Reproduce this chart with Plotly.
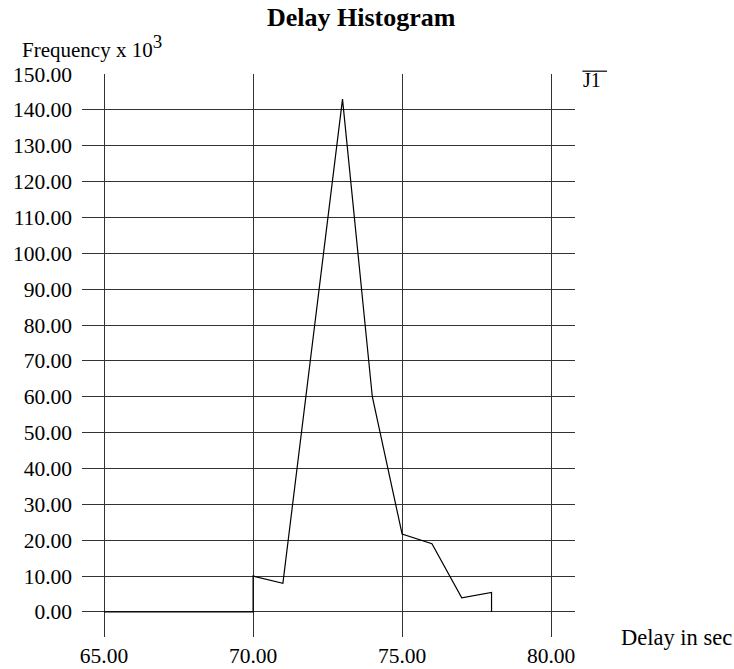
import plotly.graph_objects as go

# Delay histogram values (frequency in thousands)
delay_sec = [65, 70, 70, 71, 73, 74, 75, 76, 77, 78, 78]
frequency_k = [0, 0, 10, 8, 143, 60, 21.7, 19, 3.9, 5.4, 0]

x_ticks = [65, 70, 75, 80]
y_ticks = [0, 10, 20, 30, 40, 50, 60, 70, 80, 90, 100, 110, 120, 130, 140, 150]
series_name = "J1"

FONT = "Liberation Serif"
INK = "#000000"
GRID = "#333333"

fig = go.Figure()
fig.add_trace(go.Scatter(
    x=delay_sec, y=frequency_k, mode="lines", name=series_name,
    line=dict(color=INK, width=1.2), showlegend=False,
))

fig.update_layout(
    width=734, height=669,
    margin=dict(l=82, r=159, t=74, b=32),
    paper_bgcolor="white", plot_bgcolor="white",
    font=dict(family=FONT, size=21.5, color=INK),
    title=dict(text="<b>Delay Histogram</b>", x=0.492, xanchor="center",
               y=0.975, yanchor="middle", font=dict(family=FONT, size=26, color=INK)),
    xaxis=dict(
        range=[64.26, 80.8], tickvals=x_ticks,
        ticktext=[f"{v:.2f}" for v in x_ticks],
        showgrid=True, gridcolor=GRID, gridwidth=1,
        zeroline=False, showline=False, ticks="", ticklabelstandoff=3,
        automargin=False, fixedrange=True,
    ),
    yaxis=dict(
        range=[-7.0, 150], tickvals=y_ticks,
        ticktext=[f"{v:.2f}" for v in y_ticks],
        showgrid=True, gridcolor=GRID, gridwidth=1,
        zeroline=False, showline=False, ticks="", ticklabelstandoff=9,
        automargin=False, fixedrange=True,
    ),
    annotations=[
        dict(text="Frequency x 10<sup><span style='font-size:19px'>3</span></sup>",
             xref="paper", yref="paper",
             x=-0.126, y=1.048, xanchor="left", yanchor="middle", showarrow=False,
             font=dict(family=FONT, size=21, color=INK)),
        dict(text="Delay in sec", xref="paper", yref="paper",
             x=1.089, y=0.0, xanchor="left", yanchor="middle", showarrow=False,
             font=dict(family=FONT, size=22.5, color=INK)),
        dict(text=series_name, xref="paper", yref="paper",
             x=1.013, y=0.989, xanchor="left", yanchor="middle", showarrow=False,
             font=dict(family=FONT, size=20, color=INK)),
    ],
    shapes=[
        dict(type="line", xref="paper", yref="paper",
             x0=1.015, x1=1.065, y0=1.005, y1=1.005,
             line=dict(color=INK, width=1.2)),
    ],
)

fig.write_html("out.html")
